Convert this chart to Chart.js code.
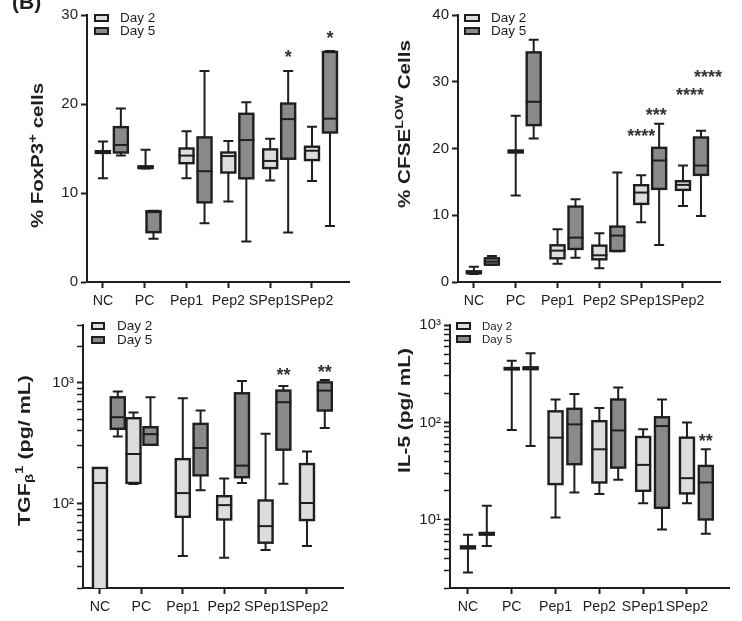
<!DOCTYPE html>
<html>
<head>
<meta charset="utf-8">
<title>FoxP3 / CFSE / TGF-b1 / IL-5</title>
<script src="https://cdn.jsdelivr.net/npm/chart.js@4.4.1/dist/chart.umd.min.js"></script>
<style>
  body { margin: 0; background: #fff; }
  #page { position: relative; width: 742px; height: 621px; overflow: hidden; }
  canvas { position: absolute; }
  #tag { position: absolute; left: 12px; top: -9px; font: bold 21px/21px "Liberation Sans", Arial, sans-serif; color: #1e1e1e; }
</style>
</head>
<body>
<div id="page">
  <canvas id="foxp3" width="371" height="310" style="left:0;top:0"></canvas>
  <canvas id="cfse" width="371" height="310" style="left:371px;top:0"></canvas>
  <canvas id="tgf" width="371" height="311" style="left:0;top:310px"></canvas>
  <canvas id="il5" width="371" height="311" style="left:371px;top:310px"></canvas>
  <div id="tag">(B)</div>
</div>
<script>
const categories = ['NC', 'PC', 'Pep1', 'Pep2', 'SPep1', 'SPep2'];
const days = ['Day 2', 'Day 5'];

// one row per category: [min, q1, median, q3, max]
const foxp3Day2 = [
  [11.65, 14.5, 14.6, 14.7, 15.8],
  [12.75, 12.8, 12.9, 13.0, 14.85],
  [11.65, 13.35, 14.2, 15.0, 16.95],
  [9.05, 12.3, 14.15, 14.55, 15.85],
  [11.4, 12.8, 13.6, 14.9, 16.1],
  [11.35, 13.7, 14.75, 15.2, 17.45]
];
const foxp3Day5 = [
  [14.2, 14.55, 15.4, 17.4, 19.5],
  [4.85, 5.6, 7.85, 7.95, 8.0],
  [6.6, 8.95, 12.45, 16.25, 23.7],
  [4.55, 11.65, 15.95, 18.9, 20.2],
  [5.55, 13.85, 18.3, 20.05, 23.7],
  [6.3, 16.8, 18.35, 25.85, 25.95]
];
const cfseDay2 = [
  [1.2, 1.3, 1.45, 1.6, 2.3],
  [12.95, 19.4, 19.55, 19.7, 24.9],
  [2.75, 3.55, 4.7, 5.5, 7.9],
  [2.05, 3.4, 4.0, 5.45, 7.3],
  [8.95, 11.7, 13.4, 14.5, 16.0],
  [11.4, 13.8, 14.55, 15.1, 17.45]
];
const cfseDay5 = [
  [2.55, 2.6, 3.05, 3.55, 3.9],
  [21.5, 23.5, 27.0, 34.4, 36.3],
  [3.65, 4.95, 6.65, 11.3, 12.4],
  [4.6, 4.65, 6.95, 8.3, 16.4],
  [5.55, 13.95, 18.2, 20.1, 23.7],
  [9.9, 16.05, 17.45, 21.65, 22.65]
];
const tgfDay2 = [
  [10, 15, 148, 197, 197],
  [145, 148, 257, 508, 566],
  [36.8, 77.6, 122, 233, 743],
  [35.6, 73.8, 97, 115, 161],
  [41.3, 47.4, 65, 106, 378],
  [44.5, 73, 101, 212, 270]
];
const tgfDay5 = [
  [359, 415, 518, 757, 844],
  [306, 306, 375, 428, 757],
  [129, 171, 288, 456, 588],
  [148, 165, 206, 817, 1033],
  [146, 279, 689, 860, 940],
  [421, 588, 860, 1006, 1052]
];
const il5Day2 = [
  [2.88, 5.1, 5.22, 5.35, 7.03],
  [83.6, 350, 356, 362, 429],
  [10.6, 23.3, 69.8, 130, 172],
  [18.4, 24.2, 53, 103, 141],
  [14.8, 19.9, 36.7, 70.9, 84.9],
  [14.8, 18.7, 26.8, 69.8, 100]
];
const il5Day5 = [
  [5.38, 7.05, 7.2, 7.35, 14.0],
  [57.4, 352, 360, 368, 514],
  [19.1, 37.3, 95.5, 138, 196],
  [25.8, 34.4, 82.8, 172, 229],
  [7.96, 13.3, 91.8, 113, 172],
  [7.2, 10.1, 24.2, 35.8, 53]
];

// significance marks
const foxp3Stars = [{cat: 4, day: 1, y: 25.7, text: '*'}, {cat: 5, day: 1, y: 27.8, text: '*'}];
const cfseStars = [
  {cat: 4, day: 0, y: 22.4, text: '****'},
  {cat: 4, day: 1, y: 25.55, text: '***'},
  {cat: 5, day: 0, y: 28.55, text: '****'},
  {cat: 5, day: 1, y: 31.3, text: '****'}
];
const tgfStars = [{cat: 4, day: 1, y: 1233, text: '**'}, {cat: 5, day: 1, y: 1312, text: '**'}];
const il5Stars = [{cat: 5, day: 1, y: 70.8, text: '**'}];

const foxp3Ticks = [0, 10, 20, 30];
const cfseTicks = [0, 10, 20, 30, 40];
const tgfTicks = [20, 30, 40, 50, 60, 70, 80, 90, 100, 200, 300, 400, 500, 600, 700, 800, 900, 1000, 2000, 3000];
const il5Ticks = [2, 3, 4, 5, 6, 7, 8, 9, 10, 20, 30, 40, 50, 60, 70, 80, 90, 100, 200, 300, 400, 500, 600, 700, 800, 900, 1000];

const ink = '#1e1e1e';
const fills = ['#dddddd', '#8a8a8a'];
const FONT = '"Liberation Sans", Arial, sans-serif';
const sup = {1: '\u00b9', 2: '\u00b2', 3: '\u00b3'};
const isPow10 = v => Math.abs(Math.log10(v) - Math.round(Math.log10(v))) < 1e-9;

const panels = [
  {
    id: 'foxp3', day2: foxp3Day2, day5: foxp3Day5, stars: foxp3Stars, yTicks: foxp3Ticks,
    scale: 'linear', yMin: 0, yMax: 30,
    area: {left: 87, top: 15, right: 349, bottom: 282}, xMin: -0.38, xMax: 5.885,
    shift: {1: [0.02, 0.21]}, starDx: [],
    legend: {dx: 8, dy: 0, w: 13, h: 6, gap: 13, tx: 33, font: 13.5},
    title: {parts: [{text: '% FoxP3'}, {text: '+', s: 0.75, dy: -0.3}, {text: ' cells'}], cx: 38.5, cy: 155.5, len: 145}
  },
  {
    id: 'cfse', day2: cfseDay2, day5: cfseDay5, stars: cfseStars, yTicks: cfseTicks,
    scale: 'linear', yMin: 0, yMax: 40,
    area: {left: 87, top: 15, right: 349, bottom: 282}, xMin: -0.38, xMax: 5.885,
    shift: {}, starDx: [0, -3, 7, 7],
    legend: {dx: 7, dy: 0, w: 14, h: 6, gap: 13, tx: 33, font: 13.5},
    title: {parts: [{text: '% CFSE'}, {text: 'LOW', s: 0.7, dy: -0.35}, {text: ' Cells'}], cx: 35, cy: 124, len: 168}
  },
  {
    id: 'tgf', day2: tgfDay2, day5: tgfDay5, stars: tgfStars, yTicks: tgfTicks,
    scale: 'logarithmic', yMin: 20, yMax: 3000,
    area: {left: 83, top: 15, right: 343, bottom: 278}, xMin: -0.41, xMax: 5.87,
    shift: {1: [-0.19, 0.22]}, starDx: [],
    legend: {dx: 9, dy: -2, w: 12, h: 6, gap: 14, tx: 34, font: 13.5},
    title: {parts: [{text: 'TGF'}, {text: '\u03b2', s: 0.7, dy: 0.3}, {text: '1', s: 0.7, dy: -0.35}, {text: ' (pg/ mL)'}], cx: 25.5, cy: 140.5, len: 151}
  },
  {
    id: 'il5', day2: il5Day2, day5: il5Day5, stars: il5Stars, yTicks: il5Ticks,
    scale: 'logarithmic', yMin: 2, yMax: 1000,
    area: {left: 79, top: 15, right: 358, bottom: 278}, xMin: -0.41, xMax: 5.96,
    shift: {}, starDx: [],
    legend: {dx: 7, dy: -2, w: 13, h: 6, gap: 13, tx: 32, font: 11.5},
    title: {parts: [{text: 'IL-5 (pg/ mL)'}], cx: 34.5, cy: 100.5, len: 125}
  }
];

function dayOffset(p, cat, day) {
  return (p.shift[cat] || [0, 0.43])[day];
}

function drawTitle(ctx, t) {
  const base = 16;
  const fontOf = s => 'bold ' + (base * (s || 1)) + 'px ' + FONT;
  ctx.save();
  ctx.translate(t.cx, t.cy);
  ctx.rotate(-Math.PI / 2);
  let w = 0;
  t.parts.forEach(pt => { ctx.font = fontOf(pt.s); w += ctx.measureText(pt.text).width; });
  ctx.scale(t.len / w, 1);
  ctx.fillStyle = ink;
  ctx.textBaseline = 'middle';
  let xx = -w / 2;
  t.parts.forEach(pt => {
    ctx.font = fontOf(pt.s);
    ctx.fillText(pt.text, xx, (pt.dy || 0) * base);
    xx += ctx.measureText(pt.text).width;
  });
  ctx.restore();
}

function boxPlugin(p) {
  return {
    id: 'box_' + p.id,
    afterDatasetsDraw(chart) {
      const {ctx, chartArea: a, scales: {x, y}} = chart;
      ctx.save();
      ctx.beginPath();
      ctx.rect(a.left, 0, a.right - a.left, a.bottom);
      ctx.clip();
      ctx.strokeStyle = ink;
      [p.day2, p.day5].forEach((rows, d) => {
        rows.forEach((r, i) => {
          const cx = x.getPixelForValue(i + dayOffset(p, i, d));
          const [lo, q1, md, q3, hi] = r.map(v => y.getPixelForValue(v));
          ctx.lineWidth = 2;
          ctx.beginPath();
          ctx.moveTo(cx, lo); ctx.lineTo(cx, hi);
          ctx.moveTo(cx - 5, lo); ctx.lineTo(cx + 5, lo);
          ctx.moveTo(cx - 5, hi); ctx.lineTo(cx + 5, hi);
          ctx.stroke();
          ctx.lineWidth = 2.4;
          ctx.fillStyle = fills[d];
          ctx.fillRect(cx - 7, q3, 14, q1 - q3);
          ctx.strokeRect(cx - 7, q3, 14, q1 - q3);
          ctx.lineWidth = 2;
          ctx.beginPath();
          ctx.moveTo(cx - 8, md); ctx.lineTo(cx + 8, md);
          ctx.stroke();
        });
      });
      ctx.restore();

      // stars
      ctx.save();
      ctx.fillStyle = '#333';
      ctx.font = 'bold 18px ' + FONT;
      ctx.textAlign = 'center';
      ctx.textBaseline = 'alphabetic';
      p.stars.forEach((s, k) => {
        const sx = x.getPixelForValue(s.cat + dayOffset(p, s.cat, s.day)) + (p.starDx[k] || 0);
        const sy = y.getPixelForValue(s.y);
        const m = ctx.measureText(s.text);
        ctx.fillText(s.text, sx, sy + (m.actualBoundingBoxAscent - m.actualBoundingBoxDescent) / 2);
      });
      ctx.restore();

      // legend
      const L = p.legend;
      ctx.save();
      ctx.lineWidth = 2;
      ctx.strokeStyle = ink;
      ctx.font = L.font + 'px ' + FONT;
      ctx.textBaseline = 'middle';
      days.forEach((name, d) => {
        const bx = a.left + L.dx, by = a.top + L.dy + d * L.gap;
        ctx.fillStyle = fills[d];
        ctx.fillRect(bx, by, L.w, L.h);
        ctx.strokeRect(bx, by, L.w, L.h);
        ctx.fillStyle = ink;
        ctx.fillText(name, a.left + L.tx, by + L.h / 2 + 0.5);
      });
      ctx.restore();

      drawTitle(ctx, p.title);
    }
  };
}

function makeChart(p) {
  const canvas = document.getElementById(p.id);
  const W = canvas.width, H = canvas.height;
  const isLog = p.scale === 'logarithmic';
  return new Chart(canvas, {
    type: 'scatter',
    data: {datasets: days.map(d => ({label: d, data: [], pointRadius: 0}))},
    options: {
      responsive: false,
      animation: false,
      devicePixelRatio: 1,
      layout: {padding: {left: 0, top: p.area.top, right: W - p.area.right, bottom: 0}},
      plugins: {legend: {display: false}, tooltip: {enabled: false}},
      scales: {
        x: {
          type: 'linear', min: p.xMin, max: p.xMax,
          afterFit: s => { s.height = H - p.area.bottom; },
          afterBuildTicks: s => { s.ticks = categories.map((c, i) => ({value: i})); },
          ticks: {
            callback: v => categories[v] || '',
            color: ink, font: {family: FONT, size: 14.2}, padding: 5,
            autoSkip: false, maxRotation: 0
          },
          grid: {drawOnChartArea: false, drawTicks: true, tickLength: 6, tickColor: ink, tickWidth: 2},
          border: {display: true, color: ink, width: 2}
        },
        y: {
          type: p.scale, min: p.yMin, max: p.yMax,
          afterFit: s => { s.width = p.area.left; },
          afterBuildTicks: s => { s.ticks = p.yTicks.map(v => ({value: v, major: isLog && isPow10(v)})); },
          ticks: {
            callback: v => isLog ? (isPow10(v) ? '10' + sup[Math.round(Math.log10(v))] : '') : String(v),
            color: ink, font: {family: FONT, size: 15}, padding: 3, autoSkip: false
          },
          grid: {
            drawOnChartArea: false, drawTicks: true, tickLength: 6, tickColor: ink,
            tickWidth: c => (!isLog || (c.tick && isPow10(c.tick.value))) ? 2 : 1.5
          },
          border: {display: true, color: ink, width: 2}
        }
      }
    },
    plugins: [boxPlugin(p)]
  });
}

panels.forEach(makeChart);
</script>
</body>
</html>
